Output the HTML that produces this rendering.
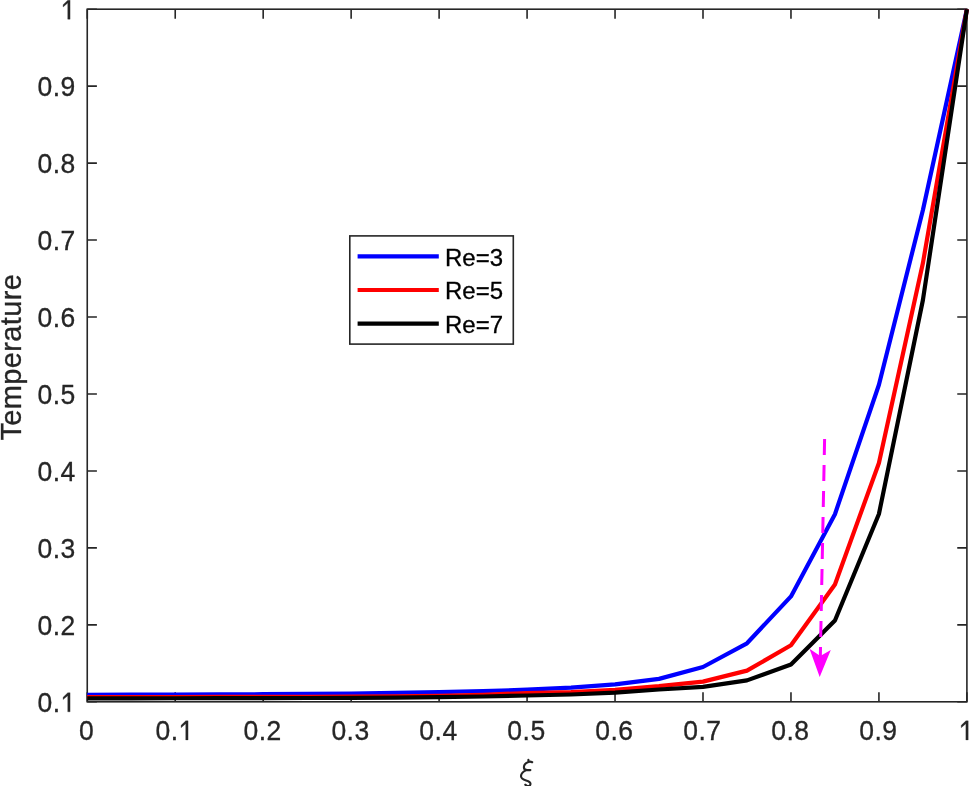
<!DOCTYPE html>
<html><head><meta charset="utf-8"><style>
html,body{margin:0;padding:0;background:#fff;width:969px;height:786px;overflow:hidden}
svg{display:block;will-change:transform}
</style></head><body>
<svg width="969" height="786" viewBox="0 0 969 786"><rect x="0" y="0" width="969" height="786" fill="#fff"/><path d="M87.25,701.80V692.15M87.25,9.20V18.85M175.22,701.80V692.15M175.22,9.20V18.85M263.18,701.80V692.15M263.18,9.20V18.85M351.14,701.80V692.15M351.14,9.20V18.85M439.11,701.80V692.15M439.11,9.20V18.85M527.08,701.80V692.15M527.08,9.20V18.85M615.04,701.80V692.15M615.04,9.20V18.85M703.00,701.80V692.15M703.00,9.20V18.85M790.97,701.80V692.15M790.97,9.20V18.85M878.93,701.80V692.15M878.93,9.20V18.85M966.90,701.80V692.15M966.90,9.20V18.85M87.25,701.80H96.90M966.90,701.80H957.25M87.25,624.84H96.90M966.90,624.84H957.25M87.25,547.89H96.90M966.90,547.89H957.25M87.25,470.93H96.90M966.90,470.93H957.25M87.25,393.98H96.90M966.90,393.98H957.25M87.25,317.02H96.90M966.90,317.02H957.25M87.25,240.07H96.90M966.90,240.07H957.25M87.25,163.11H96.90M966.90,163.11H957.25M87.25,86.16H96.90M966.90,86.16H957.25M87.25,9.20H96.90M966.90,9.20H957.25" stroke="#262626" stroke-width="1.6" fill="none"/><rect x="87.25" y="9.2" width="879.65" height="692.60" fill="none" stroke="#262626" stroke-width="1.6"/><polyline points="87.25,694.80 131.23,694.71 175.22,694.59 219.20,694.43 263.18,694.20 307.16,693.90 351.14,693.49 395.13,692.92 439.11,692.16 483.09,691.12 527.08,689.70 571.06,687.70 615.04,684.40 659.02,678.90 703.00,667.00 746.99,643.30 790.97,596.40 834.95,514.20 878.93,384.70 922.92,210.00 966.90,9.20" fill="none" stroke="#0000ff" stroke-width="4.2" stroke-linejoin="round" stroke-linecap="butt"/><polyline points="87.25,697.00 131.23,696.99 175.22,696.98 219.20,696.95 263.18,696.89 307.16,696.80 351.14,696.63 395.13,696.33 439.11,695.78 483.09,694.79 527.08,693.00 571.06,692.00 615.04,689.80 659.02,686.20 703.00,681.60 746.99,670.60 790.97,645.30 834.95,584.50 878.93,463.00 922.92,263.00 966.90,9.20" fill="none" stroke="#ff0000" stroke-width="4.2" stroke-linejoin="round" stroke-linecap="butt"/><polyline points="87.25,698.30 131.23,698.28 175.22,698.25 219.20,698.19 263.18,698.12 307.16,698.00 351.14,697.82 395.13,697.54 439.11,697.12 483.09,696.48 527.08,695.50 571.06,694.50 615.04,692.70 659.02,689.50 703.00,686.80 746.99,680.40 790.97,664.50 834.95,620.50 878.93,514.00 922.92,300.00 966.90,9.20" fill="none" stroke="#000000" stroke-width="4.2" stroke-linejoin="round" stroke-linecap="butt"/><g font-family="Liberation Sans" font-size="26.5" letter-spacing="0.5" fill="#262626" stroke="#262626" stroke-width="0.3"><text transform="translate(79.03,739.90) scale(1,1.07)">0</text><text transform="translate(155.45,739.90) scale(1,1.07)">0.</text><path transform="translate(178.55,739.90) scale(0.012939,-0.013845)" d="M555,0L555,1165L197,880L197,1050L560,1375L736,1375L736,0Z" vector-effect="non-scaling-stroke"/><text transform="translate(243.41,739.90) scale(1,1.07)">0.2</text><text transform="translate(331.38,739.90) scale(1,1.07)">0.3</text><text transform="translate(419.34,739.90) scale(1,1.07)">0.4</text><text transform="translate(507.31,739.90) scale(1,1.07)">0.5</text><text transform="translate(595.27,739.90) scale(1,1.07)">0.6</text><text transform="translate(683.24,739.90) scale(1,1.07)">0.7</text><text transform="translate(771.20,739.90) scale(1,1.07)">0.8</text><text transform="translate(859.17,739.90) scale(1,1.07)">0.9</text><path transform="translate(958.68,739.90) scale(0.012939,-0.013845)" d="M555,0L555,1165L197,880L197,1050L560,1375L736,1375L736,0Z" vector-effect="non-scaling-stroke"/><text transform="translate(37.46,711.80) scale(1,1.07)">0.</text><path transform="translate(60.56,711.80) scale(0.012939,-0.013845)" d="M555,0L555,1165L197,880L197,1050L560,1375L736,1375L736,0Z" vector-effect="non-scaling-stroke"/><text transform="translate(37.46,634.84) scale(1,1.07)">0.2</text><text transform="translate(37.46,557.89) scale(1,1.07)">0.3</text><text transform="translate(37.46,480.93) scale(1,1.07)">0.4</text><text transform="translate(37.46,403.98) scale(1,1.07)">0.5</text><text transform="translate(37.46,327.02) scale(1,1.07)">0.6</text><text transform="translate(37.46,250.07) scale(1,1.07)">0.7</text><text transform="translate(37.46,173.11) scale(1,1.07)">0.8</text><text transform="translate(37.46,96.16) scale(1,1.07)">0.9</text><path transform="translate(60.56,19.20) scale(0.012939,-0.013845)" d="M555,0L555,1165L197,880L197,1050L560,1375L736,1375L736,0Z" vector-effect="non-scaling-stroke"/></g><text transform="translate(21.3,357.2) rotate(-90) scale(1,1.04)" text-anchor="middle" font-family="Liberation Sans" font-size="29.0" letter-spacing="0.37" fill="#262626" stroke="#262626" stroke-width="0.3">Temperature</text><path d="M528.4,759.8 L528.4,761.9 M532.2,762.2 C531.0,761.6 529.6,761.5 528.4,762.0 C525.8,763.0 523.9,765.0 523.9,767.3 C523.9,769.2 525.3,770.1 527.2,770.1 L530.4,770.1 M525.9,770.4 C523.1,771.6 521.0,774.0 521.0,776.3 C521.1,778.4 523.1,779.6 526.1,780.5 C529.1,781.4 530.6,782.3 530.5,784.0 C530.4,785.5 529.1,786.3 527.6,786.1 C526.6,785.9 525.9,785.2 525.3,784.7" fill="none" stroke="#262626" stroke-width="2.1" stroke-linecap="round" stroke-linejoin="round"/><rect x="349.8" y="235.9" width="163.50" height="108.20" fill="#fff" stroke="#262626" stroke-width="1.6"/><line x1="357.6" x2="438.8" y1="256.35" y2="256.35" stroke="#0000ff" stroke-width="4.2"/><text transform="translate(445.0,265.70) scale(1,0.965)" font-family="Liberation Sans" font-size="24.0" fill="#000" stroke="#000" stroke-width="0.3">Re=3</text><line x1="357.6" x2="438.8" y1="290.02" y2="290.02" stroke="#ff0000" stroke-width="4.2"/><text transform="translate(445.0,299.30) scale(1,0.965)" font-family="Liberation Sans" font-size="24.0" fill="#000" stroke="#000" stroke-width="0.3">Re=5</text><line x1="357.6" x2="438.8" y1="323.69" y2="323.69" stroke="#000000" stroke-width="4.2"/><text transform="translate(445.0,332.90) scale(1,0.965)" font-family="Liberation Sans" font-size="24.0" fill="#000" stroke="#000" stroke-width="0.3">Re=7</text><line x1="824.6" y1="439.0" x2="820.3" y2="658.0" stroke="#ff00ff" stroke-width="3" stroke-dasharray="16 10"/><path d="M819.7,677.0 L809.5,648.7 L820.3,656.0 L830.8,649.9 Z" fill="#ff00ff"/></svg>
</body></html>
